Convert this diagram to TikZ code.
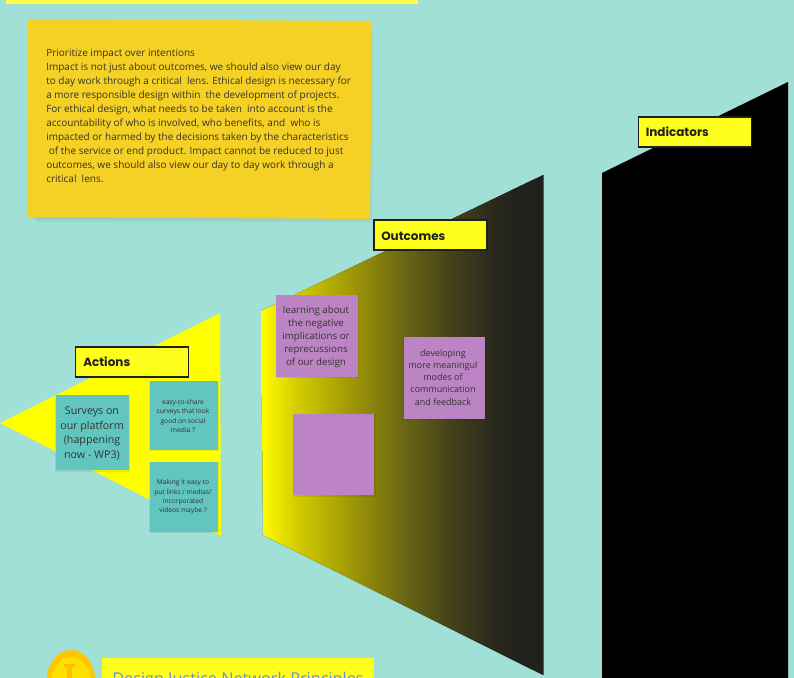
\documentclass[tikz,border=0pt]{standalone}
\usepackage{fontspec}
\setmainfont{Open Sans}
\newfontfamily\headfont[BoldFont=Poppins Bold]{Poppins}
\usetikzlibrary{shadings}
\definecolor{bgc}{HTML}{A0E0D6}
\definecolor{yel}{HTML}{FFFF00}
\definecolor{lab}{HTML}{FFFF1E}
\definecolor{org}{HTML}{F6D125}
\definecolor{tl}{HTML}{62C5BF}
\definecolor{pur}{HTML}{BC84C4}
\definecolor{ink}{HTML}{33332F}
\definecolor{dk}{HTML}{20201C}
\pgfdeclarehorizontalshading{outgrad}{100bp}{
  rgb(0bp)=(1,1,0);
  rgb(25bp)=(1,1,0);
  rgb(32bp)=(0.82,0.79,0);
  rgb(41.3bp)=(0.63,0.60,0.02);
  rgb(50.6bp)=(0.43,0.415,0.08);
  rgb(59.8bp)=(0.27,0.26,0.10);
  rgb(69bp)=(0.15,0.15,0.11);
  rgb(75bp)=(0.125,0.125,0.11);
  rgb(100bp)=(0.125,0.125,0.11)}
\tikzset{
  x=0.75pt,y=-0.75pt,
  labelbox/.style={draw=dk,line width=0.9pt,fill=lab},
  labeltext/.style={anchor=west,font=\headfont\bfseries\fontsize{9}{11}\selectfont,text=dk,inner sep=0pt},
  stick/.style={text=ink,align=center,inner sep=0pt,anchor=center},
  shadowbox/.style={fill=black,fill opacity=0.07,draw=none},
}
\begin{document}
\begin{tikzpicture}
\useasboundingbox (0,0) rectangle (794,678);
\clip (0,0) rectangle (794,678);
\fill[bgc] (0,0) rectangle (794,678);
% top bar
\fill[lab!80!white] (6,0) rectangle (418,4);
% orange note
\foreach \d in {0,1.5,3,4.5}{
  \fill[black,opacity=0.022] (32+\d,24+\d) rectangle (368+\d,218+\d);
}
\fill[org] (28,19) -- (372,21) -- (370,219) -- (27,217) -- cycle;
\node[anchor=north west,inner sep=0pt,text=ink,align=left,font=\fontsize{7.5}{10.5}\selectfont] (note) at (46,48.5) {Prioritize impact over intentions\\
Impact is not just about outcomes, we should also view our day\\
to day work through a critical\ \ lens. Ethical design is necessary for\\
a more responsible design within\ \ the development of projects.\\
For ethical design, what needs to be taken\ \ into account is the\\
accountability of who is involved, who benefits, and\ \ who is\\
impacted or harmed by the decisions taken by the characteristics\\
\ of the service or end product. Impact cannot be reduced to just\\
outcomes, we should also view our day to day work through a\\
critical\ \ lens.};
% actions triangle
\fill[yel] (0,423) -- (220,313) -- (221,536) -- cycle;
% outcomes trapezoid
\begin{scope}
\clip (261,311) -- (543,175) -- (543,675) -- (263,535) -- cycle;
\fill[dk] (255,170) rectangle (545,680);
\shade[shading=outgrad] (261,170) rectangle (532,680);
\end{scope}
\draw[gray!70!black,line width=0.5pt] (543,175) -- (543,675);
% indicators shape
\fill[black] (602,173) -- (788,82) -- (788,690) -- (602,690) -- cycle;
% label boxes
\node[labelbox,minimum width=113.5*0.75pt,minimum height=30*0.75pt,inner sep=0pt] (actbox) at (132,362) {};
\node[labeltext] (act) at (83,362) {Actions};
\node[labelbox,minimum width=113*0.75pt,minimum height=30*0.75pt,inner sep=0pt] (outbox) at (430.5,235) {};
\node[labeltext] (out) at (381,236) {Outcomes};
\node[labelbox,minimum width=112.5*0.75pt,minimum height=30*0.75pt,inner sep=0pt] (indbox) at (695,132) {};
\node[labeltext] (ind) at (645.5,132) {Indicators};
% teal notes
\fill[shadowbox] (55,396) rectangle (130,472);
\fill[tl] (56,395) rectangle (129,470);
\node[stick,font=\fontsize{8}{10.9}\selectfont] (t1) at (92,433.5) {Surveys on\\our platform\\(happening\\now - WP3)};
\fill[shadowbox] (149,381) rectangle (219,451);
\fill[tl] (149.5,381) rectangle (218,450);
\node[stick,font=\fontsize{5}{7}\selectfont] (t2) at (183,416) {easy-to-share\\surveys that look\\good on social\\media ?};
\fill[shadowbox] (149,462) rectangle (219,533);
\fill[tl] (149.5,462) rectangle (218,532);
\node[stick,font=\fontsize{5}{7}\selectfont] (t3) at (183,497) {Making it easy to\\put links / medias/\\incorporated\\videos maybe ?};
% purple notes
\fill[shadowbox] (276,295) rectangle (359,378);
\fill[pur] (276,295) rectangle (357.5,376.5);
\node[stick,font=\fontsize{7.3}{9.75}\selectfont] (p1) at (316,336.5) {learning about\\the negative\\implications or\\reprecussions\\of our design};
\fill[shadowbox] (293,414) rectangle (376,497);
\fill[pur] (293,413.5) rectangle (374,495);
\node[inner sep=0pt] (p2) at (333.5,454) {};
\fill[shadowbox] (403,337) rectangle (486,420);
\fill[pur] (403.5,337) rectangle (484.5,419);
\node[stick,font=\fontsize{6.7}{9.1}\selectfont] (p3) at (443,377.5) {developing\\more meaningul\\modes of\\communication\\and feedback};
% coin
\fill[orange!45!yellow] (71,680) ellipse [x radius=24,y radius=30];
\shade[inner color=yellow!75!orange,outer color=orange!25!yellow] (71,682) ellipse [x radius=20,y radius=25];
\fill[orange!50!yellow] (64,664) rectangle (75,667);
\fill[orange!50!yellow] (67,664) rectangle (72,680);
% bottom label
\fill[lab] (102,658) rectangle (374,680);
\node[anchor=base west,inner sep=0pt,text={rgb,255:red,106;green,143;blue,216},font=\fontsize{12.2}{14}\selectfont] (djn) at (112,684) {Design Justice Network Principles};
\end{tikzpicture}
\end{document}
